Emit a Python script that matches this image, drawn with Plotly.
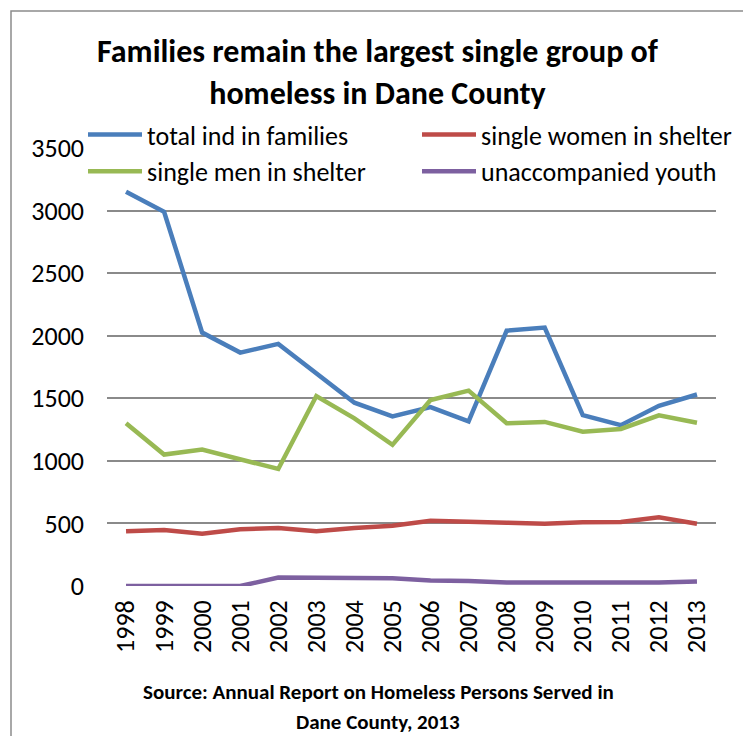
import plotly.graph_objects as go

years = [str(y) for y in range(1998, 2014)]
families = [3150, 2990, 2025, 1865, 1935, 1700, 1465, 1355, 1430, 1315, 2040, 2065, 1365, 1285, 1440, 1530]
single_women = [437, 448, 418, 453, 463, 437, 463, 482, 522, 517, 506, 498, 509, 511, 549, 498]
single_men = [1300, 1050, 1090, 1012, 935, 1518, 1340, 1128, 1486, 1561, 1300, 1311, 1233, 1255, 1364, 1305]
youth = [0, 0, 0, 0, 67, 67, 69, 61, 43, 40, 27, 27, 24, 27, 27, 35]

FONT = "Carlito, Calibri, 'Liberation Sans Narrow', 'Liberation Sans', sans-serif"

series = [
    ("total ind in families", families, "#4a7ebb"),
    ("single women in shelter", single_women, "#be4b48"),
    ("single men in shelter", single_men, "#98b954"),
    ("unaccompanied youth", youth, "#7d60a0"),
]

# plot area in pixels: x 107..716, y 148..586
PL, PR, PT, PB = 107, 716, 148, 586
W, H = PR - PL, PB - PT


def px(x):
    return (x - PL) / W


def py(y):
    return (PB - y) / H


fig = go.Figure()
for name, vals, color in series:
    fig.add_trace(go.Scatter(x=years, y=vals, name=name, mode="lines",
                             line=dict(color=color, width=4.5)))

fig.update_layout(
    width=743, height=736,
    margin=dict(l=PL, r=743 - PR, t=PT, b=736 - PB, autoexpand=False),
    paper_bgcolor="white", plot_bgcolor="white",
    font=dict(family=FONT, size=26, color="black"),
    showlegend=True,
    legend=dict(orientation="h", x=px(83), xanchor="left", y=py(111), yanchor="top",
                entrywidth=265, entrywidthmode="pixels", itemwidth=54,
                bgcolor="rgba(0,0,0,0)", font=dict(family=FONT, size=26),
                tracegroupgap=0, traceorder="normal"),
    xaxis=dict(type="category", tickangle=-90, showgrid=False, showline=False,
               ticks="", range=[-0.5, 15.5], tickfont=dict(size=26),
               ticklabelstandoff=8),
    yaxis=dict(range=[0, 3500], dtick=500, showgrid=True, gridcolor="#8a8a8a",
               gridwidth=1.5, zeroline=False, showline=False, ticks="",
               tickfont=dict(size=26), ticklabelstandoff=22),
)

# Gray frame around the whole chart
fig.add_shape(type="rect", xref="paper", yref="paper",
              x0=px(11), x1=1.2, y0=-0.5, y1=py(11),
              line=dict(color="#8c8c8c", width=1.5), fillcolor="rgba(0,0,0,0)", layer="below")

# Title
fig.add_annotation(text="<b>Families remain the largest single group of<br>homeless in Dane County</b>",
                   xref="paper", yref="paper", x=px(378), y=py(30),
                   xanchor="center", yanchor="top", showarrow=False, align="center",
                   font=dict(family=FONT, size=32, color="black"))

# Source note, two centred lines
fig.add_annotation(text="<b>Source: Annual Report on Homeless Persons Served in</b>",
                   xref="paper", yref="paper", x=px(378), y=py(692),
                   xanchor="center", yanchor="middle", showarrow=False,
                   font=dict(family=FONT, size=21, color="black"))
fig.add_annotation(text="<b>Dane County, 2013</b>",
                   xref="paper", yref="paper", x=px(378), y=py(722),
                   xanchor="center", yanchor="middle", showarrow=False,
                   font=dict(family=FONT, size=21, color="black"))

fig.write_html("out.html")
